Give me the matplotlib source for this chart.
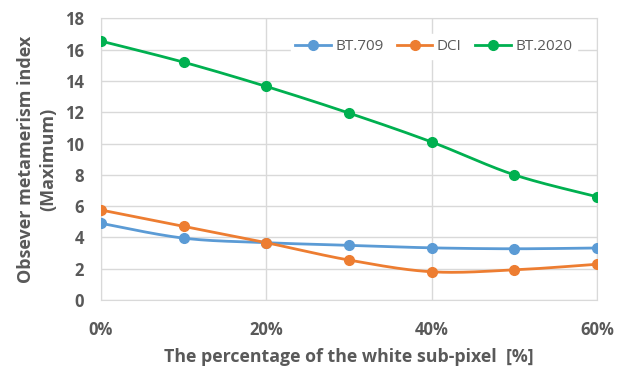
import numpy as np
import matplotlib
matplotlib.use("Agg")
import matplotlib.pyplot as plt
from matplotlib.ticker import FuncFormatter, MultipleLocator

x_pct = [0, 10, 20, 30, 40, 50, 60]
bt709 = [4.9, 3.95, 3.66, 3.49, 3.33, 3.27, 3.32]
dci = [5.75, 4.7, 3.66, 2.55, 1.8, 1.92, 2.28]
bt2020 = [16.55, 15.2, 13.65, 11.95, 10.1, 8.0, 6.6]
series_names = ["BT.709", "DCI", "BT.2020"]
colors = ["#5B9BD5", "#ED7D31", "#00B050"]


def smooth(xs, ys, n=30):
    xs = np.asarray(xs, float)
    ys = np.asarray(ys, float)
    P = np.column_stack([xs, ys])
    P = np.vstack([P[0], P, P[-1]])
    out = []
    for i in range(1, len(P) - 2):
        p0, p1, p2, p3 = P[i - 1], P[i], P[i + 1], P[i + 2]
        c1 = p1 + (p2 - p0) / 6.0
        c2 = p2 - (p3 - p1) / 6.0
        t = np.linspace(0, 1, n)[:, None]
        seg = ((1 - t) ** 3) * p1 + 3 * ((1 - t) ** 2) * t * c1 + 3 * (1 - t) * t ** 2 * c2 + t ** 3 * p2
        out.append(seg if i == 1 else seg[1:])
    out = np.vstack(out)
    return out[:, 0], out[:, 1]


plt.rcParams['font.family'] = ['Open Sans', 'DejaVu Sans']
fig = plt.figure(figsize=(6.23, 3.68), dpi=100)
ax = fig.add_axes([0.162, 0.185, 0.796, 0.765])

for name, ys, c in zip(series_names, [bt709, dci, bt2020], colors):
    sx, sy = smooth(x_pct, ys)
    ax.plot(sx, sy, color=c, lw=2.0, zorder=3)
    ax.plot(x_pct, ys, 'o', color=c, ms=7, zorder=4)
    ax.plot([], [], '-o', color=c, lw=2.0, ms=7, label=name)

ax.set_xlim(0, 60)
ax.set_ylim(0, 18)
ax.xaxis.set_major_locator(MultipleLocator(20))
ax.yaxis.set_major_locator(MultipleLocator(2))
ax.xaxis.set_major_formatter(FuncFormatter(lambda v, p: f"{int(v)}%"))
ax.grid(True, color="#D9D9D9", lw=1.0, zorder=0)
for s in ax.spines.values():
    s.set_color("#D9D9D9")
ax.tick_params(length=0, colors="#595959", labelsize=12)
ax.tick_params(axis='x', pad=15)
ax.tick_params(axis='y', pad=12)
for lab in ax.get_xticklabels() + ax.get_yticklabels():
    lab.set_fontweight('bold')

ax.set_xlabel("The percentage of the white sub-pixel  [%]", fontsize=12.8, fontweight='bold',
              color="#595959", labelpad=7)
ax.set_ylabel("Obsever metamerism index\n(Maximum)", fontsize=13, fontweight='bold',
              color="#595959", labelpad=6, linespacing=1.25)

leg = ax.legend(loc='upper right', ncol=3, frameon=True, fontsize=11, bbox_to_anchor=(0.975, 0.97),
                handlelength=2.3, columnspacing=0.9, handletextpad=0.3, borderpad=0.3)
leg.get_frame().set_edgecolor('white')
leg.get_frame().set_facecolor('white')
leg.get_frame().set_alpha(1)
for t in leg.get_texts():
    t.set_color("#595959")

fig.savefig("out.png", dpi=100)
